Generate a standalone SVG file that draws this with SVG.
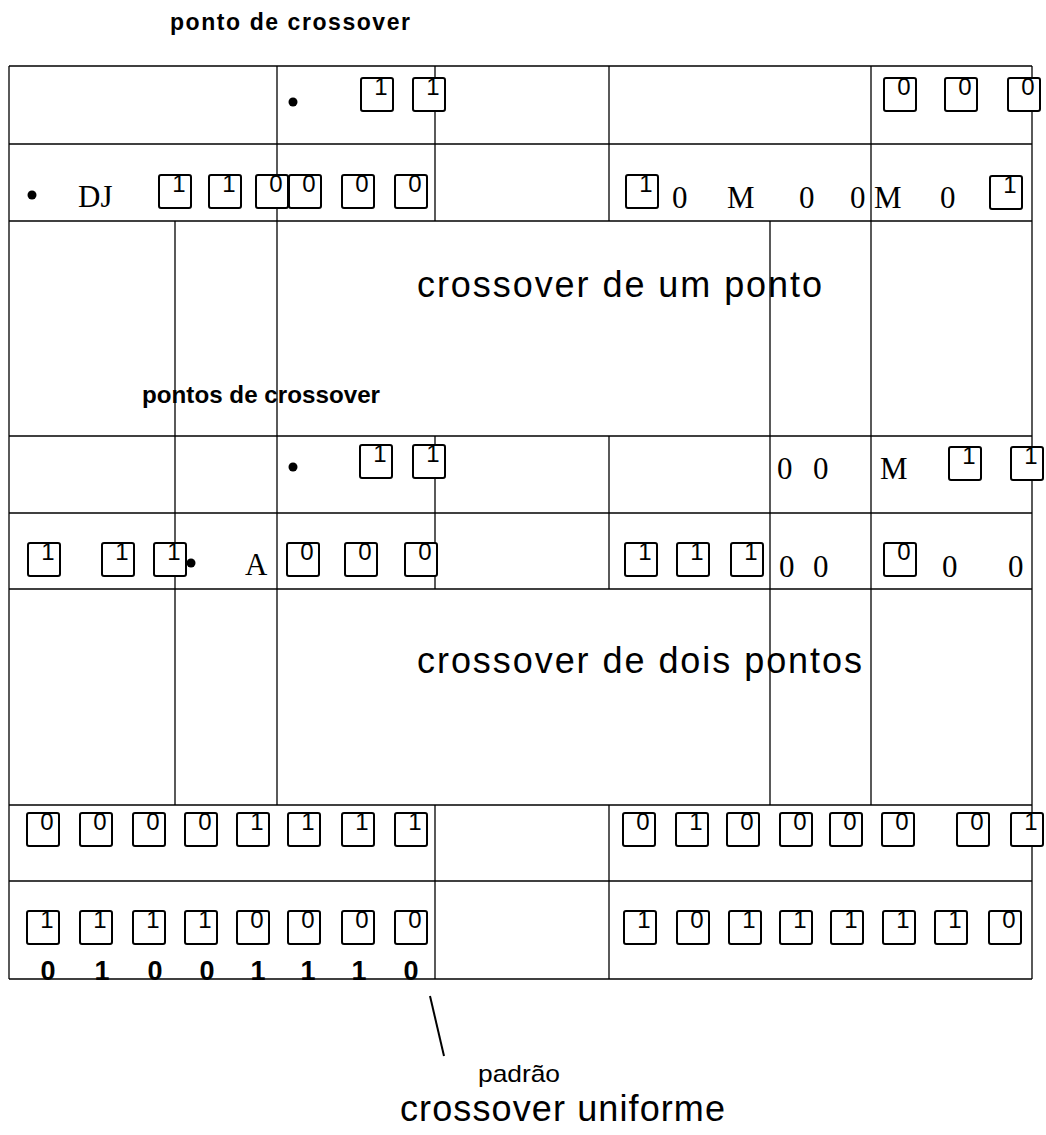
<svg xmlns="http://www.w3.org/2000/svg" width="1046" height="1135" viewBox="0 0 1046 1135">
<style>
.grid line{stroke:#000;stroke-width:1.3}
.br{fill:#fff;stroke:#000;stroke-width:2}
.bt{font-family:"Liberation Sans",Arial,sans-serif;font-size:24px;text-anchor:middle;fill:#000}
text.tm{font-family:"Liberation Serif","Times New Roman",serif;font-size:31px;fill:#000}
.lb{font-family:"Liberation Sans",Arial,sans-serif;fill:#000}
.bd{font-weight:bold}
.dot{fill:#000}
</style>
<defs>
<g id="b0"><rect class="br" x="0" y="0" width="32" height="33" rx="2"/><text class="bt" x="20" y="17">0</text></g>
<g id="b1"><rect class="br" x="0" y="0" width="32" height="33" rx="2"/><text class="bt" x="20" y="17">1</text></g>
</defs>
<rect width="1046" height="1135" fill="#fff"/>
<g id="grid" class="grid">
<line x1="9" y1="66" x2="1032" y2="66"/>
<line x1="9" y1="144" x2="1032" y2="144"/>
<line x1="9" y1="221" x2="1032" y2="221"/>
<line x1="9" y1="436" x2="1032" y2="436"/>
<line x1="9" y1="513" x2="1032" y2="513"/>
<line x1="9" y1="589" x2="1032" y2="589"/>
<line x1="9" y1="805" x2="1032" y2="805"/>
<line x1="9" y1="881" x2="1032" y2="881"/>
<line x1="9" y1="979" x2="1032" y2="979"/>
<line x1="9" y1="66" x2="9" y2="979"/>
<line x1="1032" y1="66" x2="1032" y2="979"/>
<line x1="277" y1="66" x2="277" y2="805"/>
<line x1="871" y1="66" x2="871" y2="805"/>
<line x1="175" y1="221" x2="175" y2="805"/>
<line x1="770" y1="221" x2="770" y2="805"/>
<line x1="435" y1="66" x2="435" y2="221"/>
<line x1="609" y1="66" x2="609" y2="221"/>
<line x1="435" y1="436" x2="435" y2="589"/>
<line x1="609" y1="436" x2="609" y2="589"/>
<line x1="435" y1="805" x2="435" y2="979"/>
<line x1="609" y1="805" x2="609" y2="979"/>
</g>
<g id="labels">
<text id="t-ponto" class="lb bd" x="170" y="30" font-size="23" textLength="240" lengthAdjust="spacing">ponto de crossover</text>
<text id="t-um" class="lb" x="417" y="297" font-size="36" textLength="405" lengthAdjust="spacing">crossover de um ponto</text>
<text id="t-pontos" class="lb bd" x="142" y="403" font-size="24" textLength="238" lengthAdjust="spacingAndGlyphs">pontos de crossover</text>
<text id="t-dois" class="lb" x="417" y="673" font-size="36" textLength="445" lengthAdjust="spacing">crossover de dois pontos</text>
<text id="t-padrao" class="lb" x="478" y="1082" font-size="24" textLength="82" lengthAdjust="spacingAndGlyphs">padrão</text>
<text id="t-uniforme" class="lb" x="400" y="1121" font-size="36" textLength="325" lengthAdjust="spacing">crossover uniforme</text>
</g>
<g id="connectors">
<line x1="430" y1="996" x2="444" y2="1056" stroke="#000" stroke-width="2"/>
</g>
<g id="rowA1">
<circle class="dot" cx="293" cy="102" r="4.5"/>
<use href="#b1" x="361" y="78"/><use href="#b1" x="413" y="78"/>
<use href="#b0" x="884" y="78"/><use href="#b0" x="945" y="78"/><use href="#b0" x="1008" y="78"/>
</g>
<g id="rowA2">
<circle class="dot" cx="32" cy="195" r="4.5"/>
<text class="tm" x="78" y="207">DJ</text>
<use href="#b1" x="159" y="175"/><use href="#b1" x="209" y="175"/><use href="#b0" x="256" y="175"/><use href="#b0" x="289" y="175"/><use href="#b0" x="342" y="175"/><use href="#b0" x="395" y="175"/>
<use href="#b1" x="626" y="175"/>
<text class="tm" x="672" y="208">0</text><text class="tm" x="727" y="208">M</text><text class="tm" x="799" y="208">0</text><text class="tm" x="850" y="208">0</text><text class="tm" x="874" y="208">M</text><text class="tm" x="940" y="208">0</text>
<use href="#b1" x="990" y="176"/>
</g>
<g id="rowB1">
<circle class="dot" cx="293" cy="467" r="4.5"/>
<use href="#b1" x="360" y="445"/><use href="#b1" x="413" y="445"/>
<text class="tm" x="777" y="479">0</text><text class="tm" x="813" y="479">0</text><text class="tm" x="880" y="479">M</text>
<use href="#b1" x="949" y="447"/><use href="#b1" x="1011" y="447"/>
</g>
<g id="rowB2">
<use href="#b1" x="28" y="543"/><use href="#b1" x="102" y="543"/><use href="#b1" x="154" y="543"/>
<circle class="dot" cx="191" cy="563" r="4.5"/>
<text class="tm" x="245" y="575">A</text>
<use href="#b0" x="287" y="543"/><use href="#b0" x="345" y="543"/><use href="#b0" x="405" y="543"/>
<use href="#b1" x="625" y="543"/><use href="#b1" x="677" y="543"/><use href="#b1" x="731" y="543"/>
<text class="tm" x="779" y="577">0</text><text class="tm" x="813" y="577">0</text>
<use href="#b0" x="884" y="543"/>
<text class="tm" x="942" y="577">0</text><text class="tm" x="1008" y="577">0</text>
</g>
<g id="rowC1">
<use href="#b0" x="27" y="813"/><use href="#b0" x="80" y="813"/><use href="#b0" x="133" y="813"/><use href="#b0" x="185" y="813"/><use href="#b1" x="237" y="813"/><use href="#b1" x="288" y="813"/><use href="#b1" x="342" y="813"/><use href="#b1" x="395" y="813"/>
<use href="#b0" x="623" y="813"/><use href="#b1" x="676" y="813"/><use href="#b0" x="727" y="813"/><use href="#b0" x="780" y="813"/><use href="#b0" x="830" y="813"/><use href="#b0" x="882" y="813"/><use href="#b0" x="957" y="813"/><use href="#b1" x="1011" y="813"/>
</g>
<g id="rowC2">
<use href="#b1" x="27" y="911"/><use href="#b1" x="80" y="911"/><use href="#b1" x="133" y="911"/><use href="#b1" x="185" y="911"/><use href="#b0" x="237" y="911"/><use href="#b0" x="288" y="911"/><use href="#b0" x="342" y="911"/><use href="#b0" x="395" y="911"/>
<use href="#b1" x="624" y="911"/><use href="#b0" x="677" y="911"/><use href="#b1" x="729" y="911"/><use href="#b1" x="780" y="911"/><use href="#b1" x="831" y="911"/><use href="#b1" x="883" y="911"/><use href="#b1" x="935" y="911"/><use href="#b0" x="989" y="911"/>
</g>
<g id="pattern" class="lb bd" font-size="27" text-anchor="middle">
<text x="48" y="980">0</text><text x="102" y="980">1</text><text x="155" y="980">0</text><text x="207" y="980">0</text><text x="258" y="980">1</text><text x="308" y="980">1</text><text x="359" y="980">1</text><text x="411" y="980">0</text>
</g>
</svg>
